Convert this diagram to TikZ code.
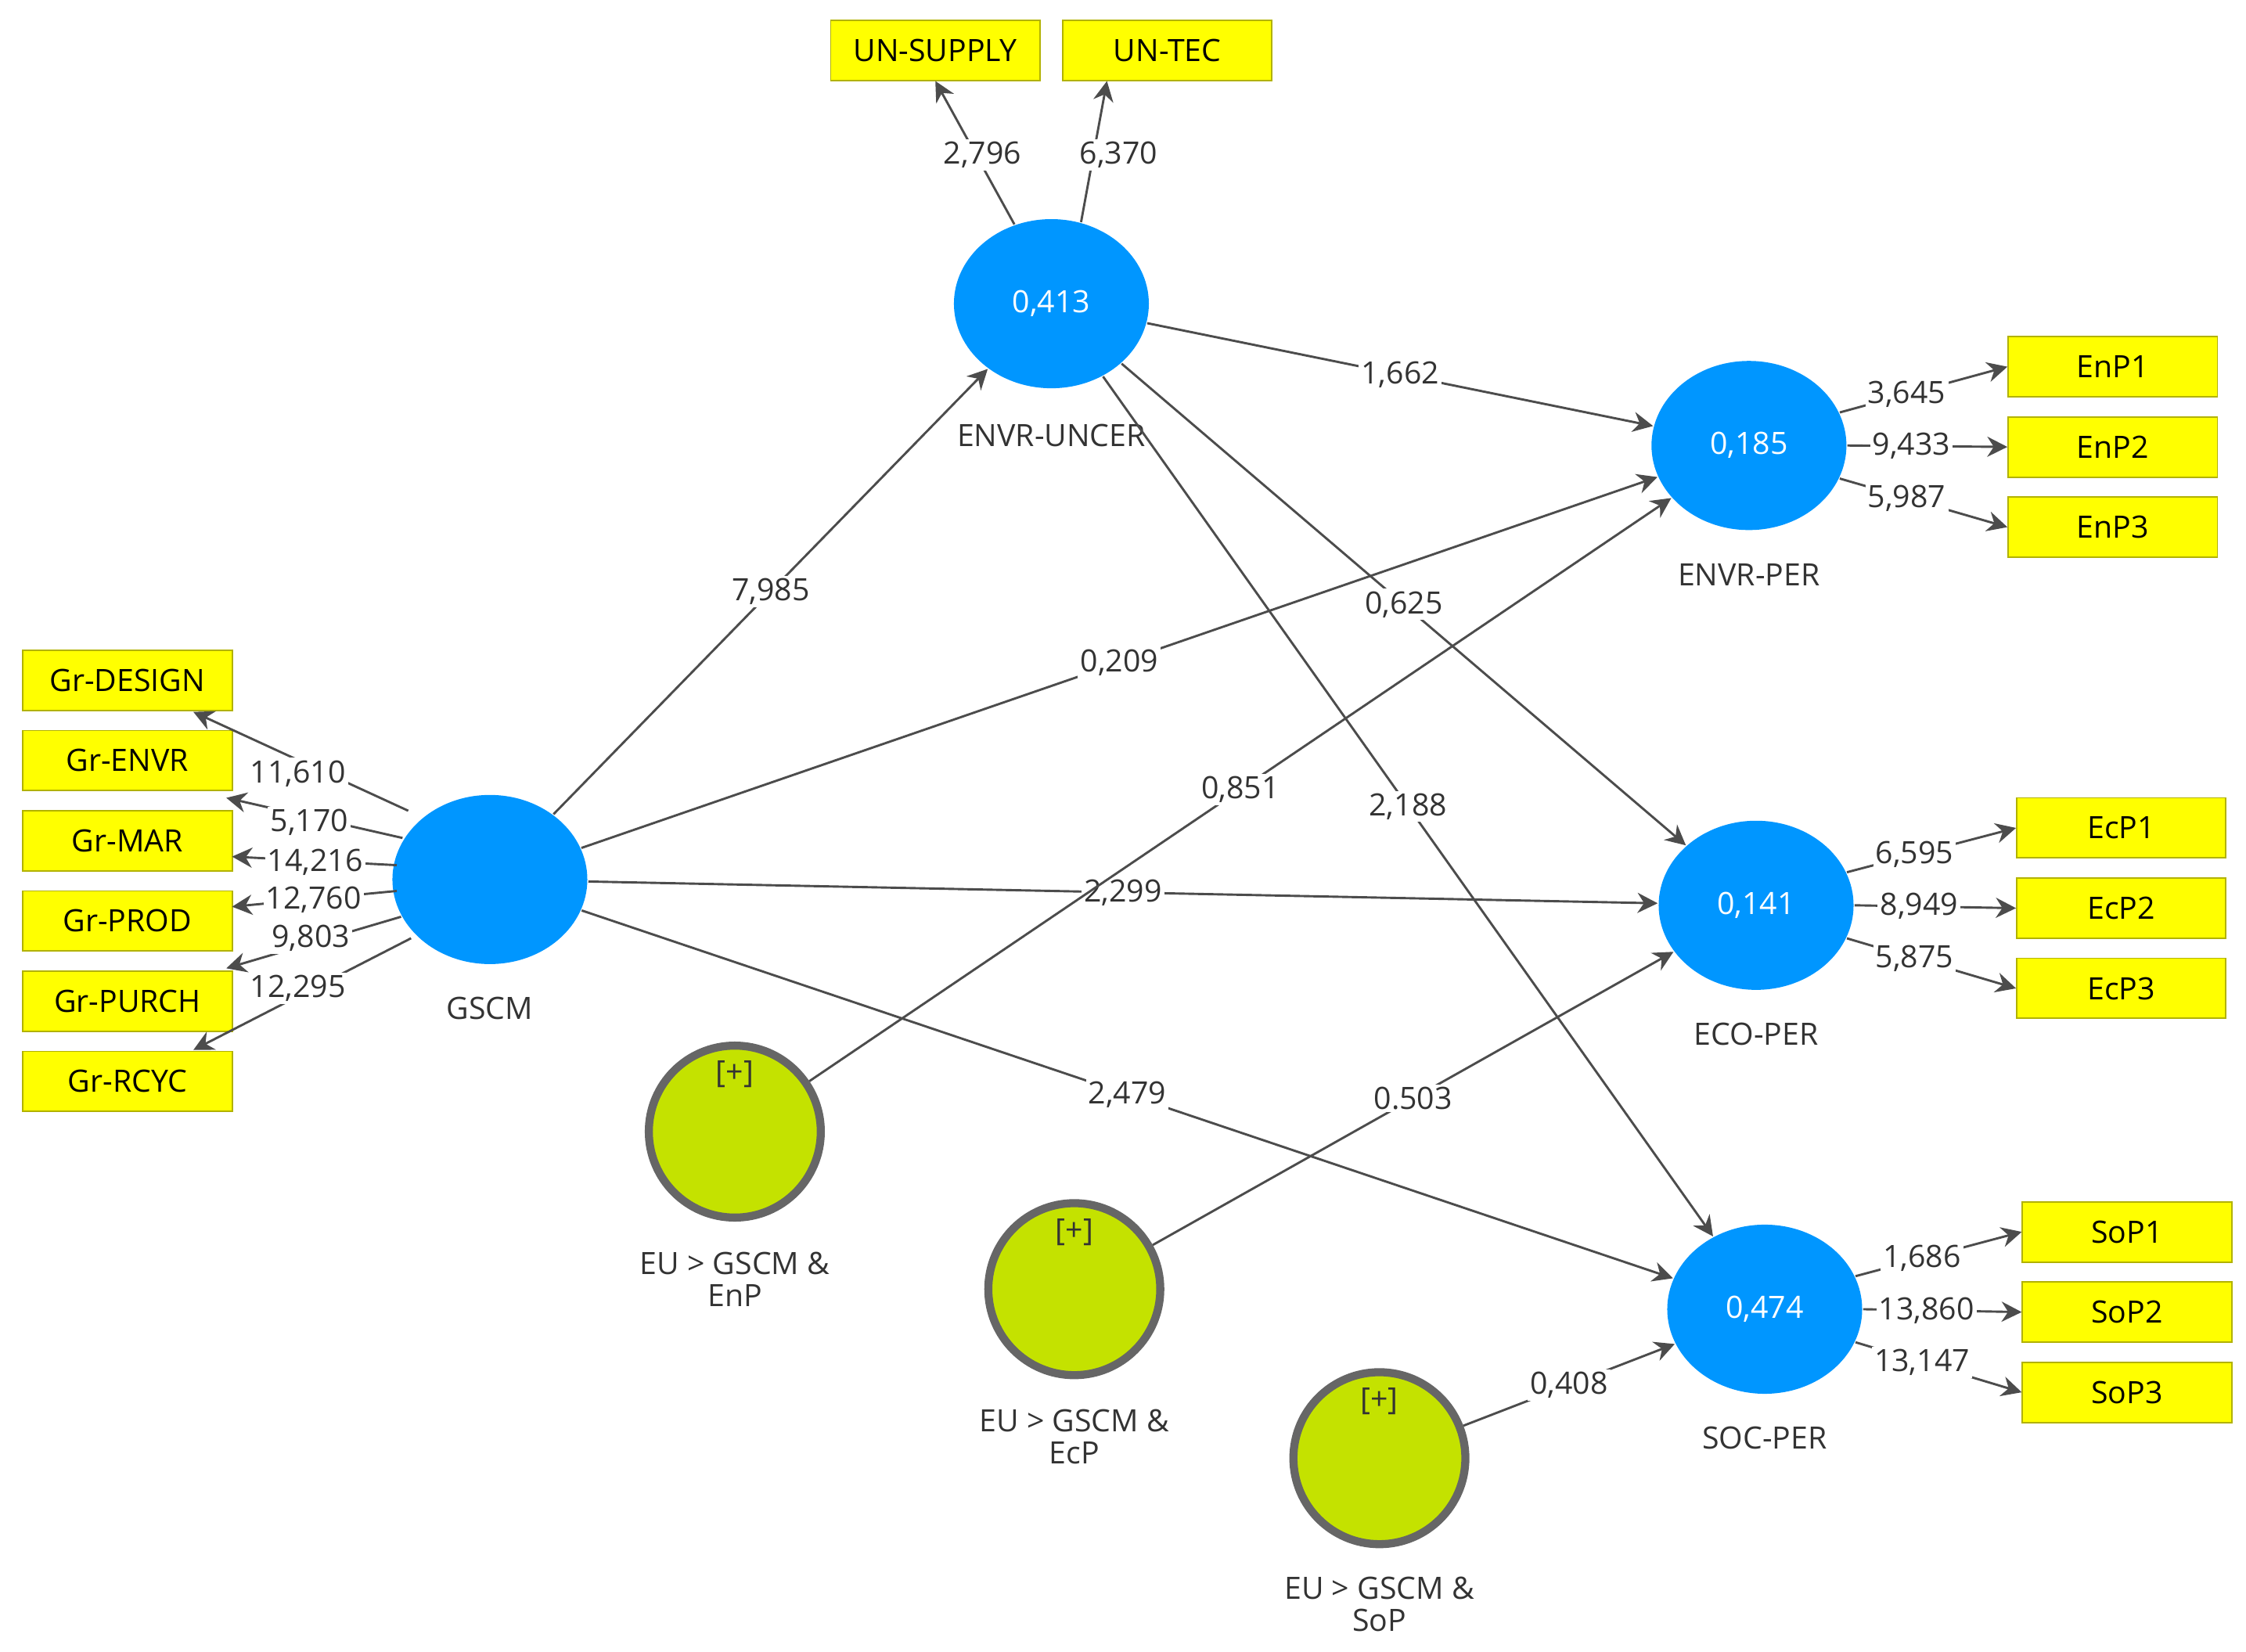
\documentclass[tikz,border=0pt]{standalone}
\usepackage{fontspec}
\setmainfont{Open Sans}
\usetikzlibrary{arrows.meta,shapes.geometric}
\definecolor{lv}{RGB}{0,150,255}
\definecolor{gr}{RGB}{196,226,0}
\definecolor{yb}{RGB}{255,255,0}
\begin{document}
\begin{tikzpicture}[x=0.01cm,y=-0.01cm,
 font=\fontsize{6.1}{7.3}\selectfont,
 lv/.style={ellipse,fill=lv,minimum width=1.36cm,minimum height=1.18cm,inner sep=0,text=white},
 mv/.style={rectangle,fill=yb,draw=yb!70!black,line width=0.3pt,minimum width=1.46cm,minimum height=0.42cm,inner sep=0},
 gv/.style={circle,fill=gr,draw=gray!80!black,line width=1.6pt,minimum size=1.2cm,inner sep=0},
 arr/.style={-{Stealth[length=4pt,width=4pt]},line width=0.45pt,draw=black!70},
 ln/.style={fill=white,inner sep=0.5pt,text=black!80},
 tl/.style={text=black!80}]
\useasboundingbox (0,0) rectangle (1568,1153);
% latent
\node[lv] (u) at (734,212) {0,413};
\node[lv] (ep) at (1221,311) {0,185};
\node[lv] (cp) at (1226,632) {0,141};
\node[lv] (sp) at (1232,914) {0,474};
\node[lv] (g) at (342,614) {};
\node[tl] at (734,304) {ENVR-UNCER};
\node[tl] at (1221,401) {ENVR-PER};
\node[tl] at (1226,722) {ECO-PER};
\node[tl] at (1232,1004) {SOC-PER};
\node[tl] at (342,704) {GSCM};
\node[gv] (m1) at (513,790) {};
\node[gv] (m2) at (750,900) {};
\node[gv] (m3) at (963,1018) {};
\node[tl] at (513,750) {[+]};
\node[tl] at (750,860) {[+]};
\node[tl] at (963,978) {[+]};
\node[tl,align=center] at (513,893) {EU > GSCM \&\\[-1pt]EnP};
\node[tl,align=center] at (750,1003) {EU > GSCM \&\\[-1pt]EcP};
\node[tl,align=center] at (963,1120) {EU > GSCM \&\\[-1pt]SoP};
% indicators
\node[mv] (us) at (653,35) {UN-SUPPLY};
\node[mv] (ut) at (815,35) {UN-TEC};
\node[mv] (e1) at (1475,256) {EnP1};
\node[mv] (e2) at (1475,312) {EnP2};
\node[mv] (e3) at (1475,368) {EnP3};
\node[mv] (c1) at (1481,578) {EcP1};
\node[mv] (c2) at (1481,634) {EcP2};
\node[mv] (c3) at (1481,690) {EcP3};
\node[mv] (s1) at (1485,860) {SoP1};
\node[mv] (s2) at (1485,916) {SoP2};
\node[mv] (s3) at (1485,972) {SoP3};
\node[mv] (l1) at (89,475) {Gr-DESIGN};
\node[mv] (l2) at (89,531) {Gr-ENVR};
\node[mv] (l3) at (89,587) {Gr-MAR};
\node[mv] (l4) at (89,643) {Gr-PROD};
\node[mv] (l5) at (89,699) {Gr-PURCH};
\node[mv] (l6) at (89,755) {Gr-RCYC};
% outer loadings
\draw[arr] (u.115) -- (us.south) ; \node[ln] at (686,108) {2,796};
\draw[arr] (u.70) -- ([xshift=-12]ut.south); \node[ln] at (781,108) {6,370};
\draw[arr] (ep.20) -- (e1.west) node[ln,pos=0.4] {3,645};
\draw[arr] (ep.0) -- (e2.west) node[ln,pos=0.4] {9,433};
\draw[arr] (ep.-20) -- (e3.west) node[ln,pos=0.4] {5,987};
\draw[arr] (cp.20) -- (c1.west) node[ln,pos=0.4] {6,595};
\draw[arr] (cp.0) -- (c2.west) node[ln,pos=0.4] {8,949};
\draw[arr] (cp.-20) -- (c3.west) node[ln,pos=0.4] {5,875};
\draw[arr] (sp.20) -- (s1.west) node[ln,pos=0.4] {1,686};
\draw[arr] (sp.0) -- (s2.west) node[ln,pos=0.4] {13,860};
\draw[arr] (sp.-20) -- (s3.west) node[ln,pos=0.4] {13,147};
\coordinate (a1) at (285,566); \coordinate (b1) at (135,497);
\coordinate (a2) at (281,585); \coordinate (b2) at (158,557);
\coordinate (a3) at (277,604); \coordinate (b3) at (162,598);
\coordinate (a4) at (277,622); \coordinate (b4) at (162,633);
\coordinate (a5) at (280,640); \coordinate (b5) at (158,676);
\coordinate (a6) at (287,655); \coordinate (b6) at (135,733);
\foreach \i in {1,...,6} \draw[arr] (a\i) -- (b\i);
\node[ln] at (208,540) {11,610};
\node[ln] at (216,574) {5,170};
\node[ln] at (220,602) {14,216};
\node[ln] at (219,628) {12,760};
\node[ln] at (217,655) {9,803};
\node[ln] at (208,690) {12,295};
% structural
\draw[arr] (g) -- (u) node[ln,pos=0.5] {7,985};
\draw[arr] (u) -- (ep) node[ln,pos=0.5] {1,662};
\draw[arr] (u) -- (cp) node[ln,pos=0.5] {0,625};
\draw[arr] (u) -- (sp) node[ln,pos=0.5] {2,188};
\draw[arr] (g) -- (ep) node[ln,pos=0.5] {0,209};
\draw[arr] (g) -- (cp) node[ln,pos=0.5] {2,299};
\draw[arr] (g) -- (sp) node[ln,pos=0.5] {2,479};
\draw[arr] (m1) -- (ep) node[ln,pos=0.5] {0,851};
\draw[arr] (m2) -- (cp) node[ln,pos=0.5] {0.503};
\draw[arr] (m3) -- (sp) node[ln,pos=0.5] {0,408};
\end{tikzpicture}
\end{document}
